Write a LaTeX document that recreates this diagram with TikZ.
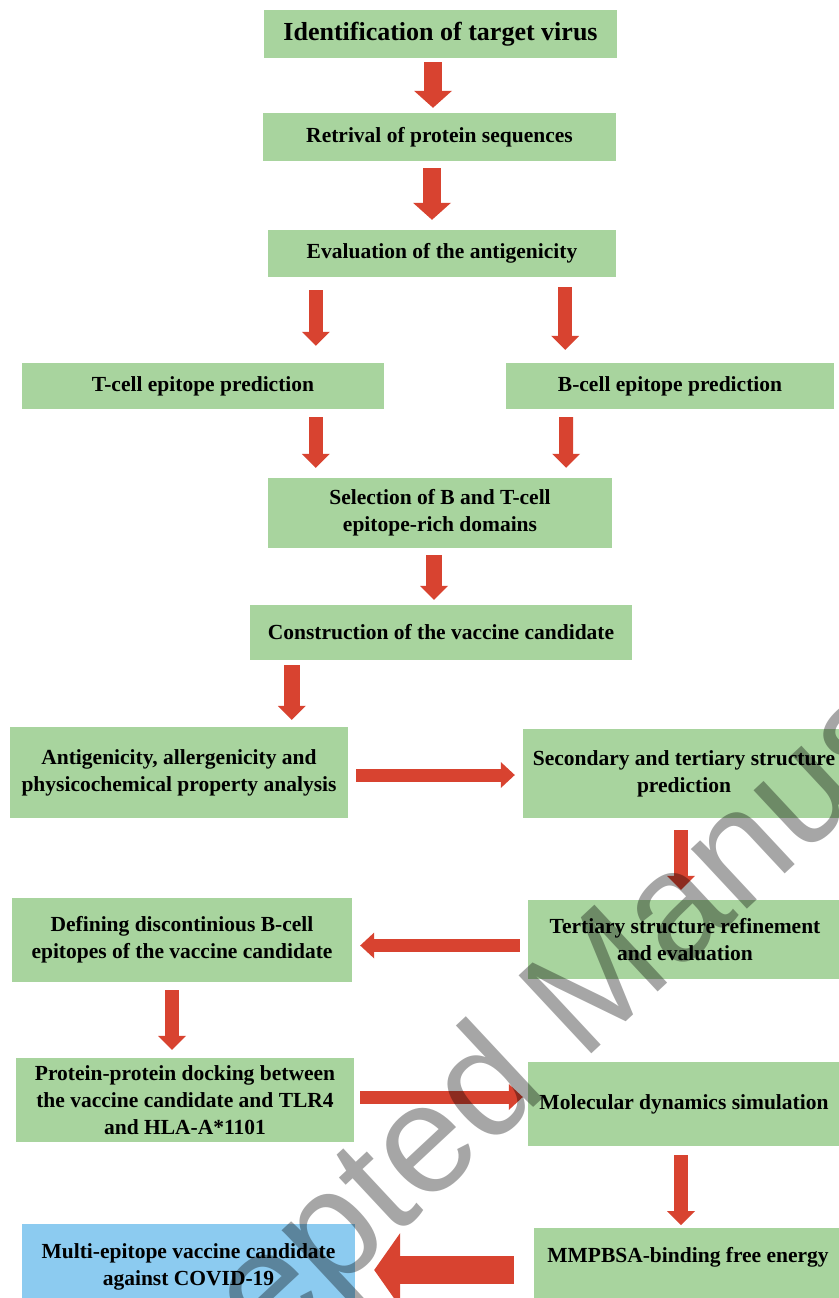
\documentclass[tikz,border=0pt]{standalone}
\usepackage{fontspec}
\setmainfont{Liberation Serif}
\newfontfamily\wmfont{Liberation Sans}
\usetikzlibrary{arrows.meta}

\definecolor{boxgreen}{RGB}{168,212,158}
\definecolor{boxblue}{RGB}{140,203,240}
\definecolor{arrowred}{RGB}{216,67,48}

\tikzset{
  stepbox/.style={fill=boxgreen, inner sep=0pt, align=center, font=\bfseries\fontsize{21.5}{27}\selectfont},
  bigflow/.style={draw=arrowred, line width=18pt, -{Triangle[width=38pt,length=17pt,line width=0pt]}},
  vflow/.style={draw=arrowred, line width=14pt, -{Triangle[width=28pt,length=14pt,line width=0pt]}},
  hflow/.style={draw=arrowred, line width=13pt, -{Triangle[width=26pt,length=14pt,line width=0pt]}},
  fatflow/.style={draw=arrowred, line width=28pt, -{Triangle[width=74pt,length=26pt,line width=0pt]}}
}

\begin{document}
\begin{tikzpicture}[x=1pt,y=1pt,yscale=-1,xscale=1]
\useasboundingbox (0,0) rectangle (838,1298);

% Text Node
\node[stepbox, minimum width=353, minimum height=48, font=\bfseries\fontsize{26}{30}\selectfont] (ident) at (440.5,34) {Identification of target virus};
% Text Node
\node[stepbox, minimum width=353, minimum height=48] (retr) at (439.5,137) {Retrival of protein sequences};
% Text Node
\node[stepbox, minimum width=348, minimum height=47] (eval) at (442,253.5) {Evaluation of the antigenicity};
% Text Node
\node[stepbox, minimum width=362, minimum height=46] (tcell) at (203,386) {T-cell epitope prediction};
% Text Node
\node[stepbox, minimum width=328, minimum height=46] (bcell) at (670,386) {B-cell epitope prediction};
% Text Node
\node[stepbox, minimum width=344, minimum height=70] (select) at (440,513) {Selection of B and T-cell\\epitope-rich domains};
% Text Node
\node[stepbox, minimum width=382, minimum height=55] (constr) at (441,632.5) {Construction of the vaccine candidate};
% Text Node
\node[stepbox, minimum width=338, minimum height=91] (antig) at (179,772.5) {Antigenicity, allergenicity and\\physicochemical property analysis};
% Text Node
\node[stepbox, minimum width=322, minimum height=89] (second) at (684,773.5) {Secondary and tertiary structure\\prediction};
% Text Node
\node[stepbox, minimum width=314, minimum height=79] (tert) at (685,939.5) {Tertiary structure refinement\\and evaluation};
% Text Node
\node[stepbox, minimum width=340, minimum height=84] (defin) at (182,940) {Defining discontinious B-cell\\epitopes of the vaccine candidate};
% Text Node
\node[stepbox, minimum width=338, minimum height=84] (dock) at (185,1100) {Protein-protein docking between\\the vaccine candidate and TLR4\\and HLA-A*1101};
% Text Node
\node[stepbox, minimum width=312, minimum height=84] (molec) at (684,1104) {Molecular dynamics simulation};
% Text Node
\node[stepbox, minimum width=308, text height=34, text depth=58, anchor=north] (mmpbsa) at (688,1228) {MMPBSA-binding free energy};
% Text Node
\node[stepbox, fill=boxblue, minimum width=333, minimum height=86] (multi) at (188.5,1267) {Multi-epitope vaccine candidate\\against COVID-19};

% Right Arrows
\draw[bigflow, shorten <=4, shorten >=5] ([xshift=-7.5]ident.south) -- ([xshift=-6.5]retr.north);
\draw[bigflow, shorten <=7, shorten >=10] ([xshift=-7.5]retr.south) -- ([xshift=-10]eval.north);
\draw[vflow, shorten <=13, shorten >=17] ([xshift=48]eval.south west) coordinate (tl) -- (tl |- tcell.north);
\draw[vflow, shorten <=10, shorten >=13] ([xshift=-51]eval.south east) coordinate (bl) -- (bl |- bcell.north);
\draw[vflow, shorten <=8, shorten >=10] (tl |- tcell.south) -- ([xshift=48]select.north west);
\draw[vflow, shorten <=8, shorten >=10] ([xshift=-104]bcell.south) -- ([xshift=-46]select.north east);
\draw[vflow, line width=16, shorten <=7, shorten >=5] ([xshift=-6]select.south) -- ([xshift=-7]constr.north);
\draw[vflow, line width=16, shorten <=5, shorten >=7] ([xshift=42]constr.south west) coordinate (cl) -- (cl |- antig.north);
\draw[hflow, shorten <=8, shorten >=8] ([yshift=2.5]antig.east) -- ([yshift=2.5]antig.east -| second.west);
\draw[vflow, shorten <=12, shorten >=10] ([xshift=-3]second.south) -- ([xshift=-4]tert.north);
\draw[hflow, shorten <=8, shorten >=8] ([yshift=6]tert.west) -- ([yshift=6]tert.west -| defin.east);
\draw[vflow, shorten <=8, shorten >=8] ([xshift=-10]defin.south) -- ([xshift=-13]dock.north);
\draw[hflow, shorten <=6, shorten >=5] ([yshift=-3]dock.east) -- ([yshift=-3]dock.east -| molec.west);
\draw[vflow, shorten <=9, shorten >=3] ([xshift=-3]molec.south) -- ([xshift=-7]mmpbsa.north);
\draw[fatflow, shorten <=20, shorten >=19] (mmpbsa.west |- 0,1270) -- (multi.east |- 0,1270);

% Watermark
\node[font=\wmfont\fontsize{155}{155}\selectfont, text=black, opacity=0.35, rotate=43] (stamp) at (580,1010) {Accepted Manuscript};

\end{tikzpicture}
\end{document}
